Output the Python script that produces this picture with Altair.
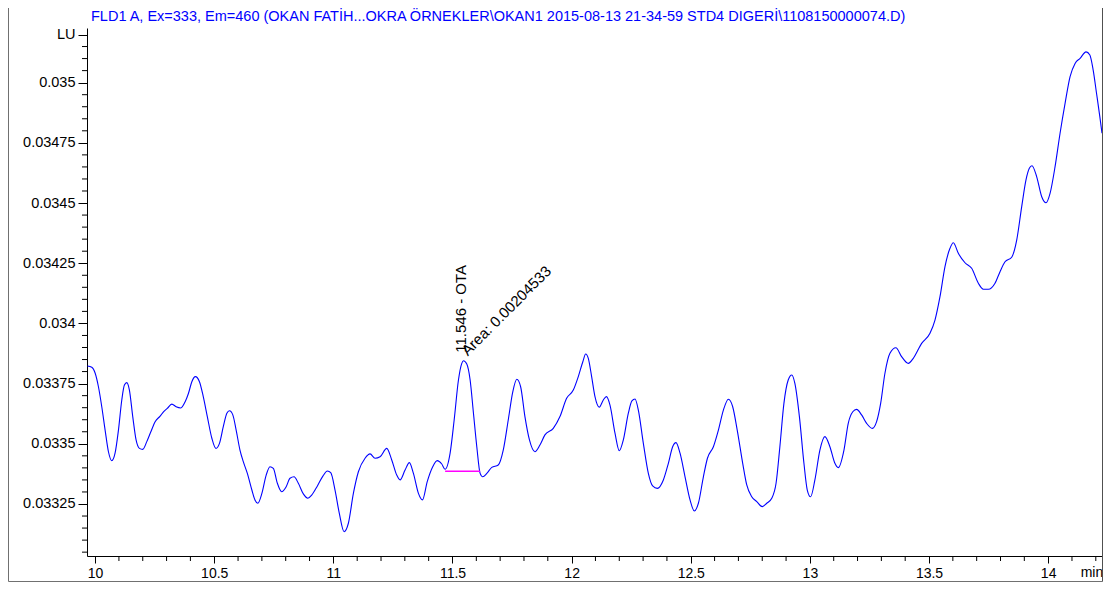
import altair as alt
import pandas as pd

TITLE = "FLD1 A, Ex=333, Em=460 (OKAN FATİH...OKRA ÖRNEKLER\\OKAN1 2015-08-13 21-34-59 STD4 DIGERİ\\1108150000074.D)"
FONT = "Liberation Sans, Arial, sans-serif"

time_min = [
    9.968, 9.986, 10.000, 10.014, 10.028, 10.042, 10.056, 10.070, 10.084, 10.098,
    10.112, 10.123, 10.133, 10.144, 10.158, 10.172, 10.186, 10.200, 10.217, 10.234,
    10.252, 10.273, 10.287, 10.303, 10.322, 10.340, 10.360, 10.378, 10.392, 10.406,
    10.421, 10.438, 10.454, 10.471, 10.490, 10.507, 10.522, 10.538, 10.553, 10.564,
    10.578, 10.592, 10.608, 10.622, 10.639, 10.658, 10.671, 10.683, 10.700, 10.718,
    10.734, 10.748, 10.765, 10.783, 10.802, 10.818, 10.835, 10.853, 10.874, 10.893,
    10.909, 10.933, 10.956, 10.975, 10.989, 11.007, 11.025, 11.045, 11.063, 11.084,
    11.105, 11.133, 11.154, 11.175, 11.196, 11.224, 11.245, 11.266, 11.280, 11.301,
    11.319, 11.336, 11.357, 11.374, 11.394, 11.417, 11.436, 11.455, 11.469, 11.490,
    11.507, 11.525, 11.539, 11.546, 11.560, 11.574, 11.588, 11.602, 11.616, 11.627,
    11.644, 11.665, 11.692, 11.713, 11.734, 11.753, 11.770, 11.786, 11.804, 11.823,
    11.846, 11.867, 11.888, 11.923, 11.951, 11.979, 12.007, 12.028, 12.047, 12.059,
    12.070, 12.084, 12.098, 12.116, 12.133, 12.146, 12.161, 12.182, 12.200, 12.217,
    12.238, 12.253, 12.266, 12.280, 12.301, 12.322, 12.340, 12.360, 12.385, 12.406,
    12.424, 12.438, 12.455, 12.476, 12.497, 12.515, 12.532, 12.553, 12.570, 12.595,
    12.616, 12.637, 12.658, 12.676, 12.695, 12.718, 12.735, 12.756, 12.777, 12.800,
    12.819, 12.840, 12.858, 12.874, 12.891, 12.909, 12.924, 12.937, 12.956, 12.975,
    12.989, 13.003, 13.021, 13.042, 13.063, 13.084, 13.105, 13.119, 13.143, 13.161,
    13.180, 13.196, 13.217, 13.238, 13.262, 13.280, 13.297, 13.315, 13.336, 13.361,
    13.385, 13.413, 13.434, 13.469, 13.504, 13.525, 13.546, 13.567, 13.588, 13.602,
    13.623, 13.651, 13.679, 13.707, 13.728, 13.749, 13.777, 13.798, 13.819, 13.847,
    13.868, 13.889, 13.907, 13.921, 13.932, 13.952, 13.973, 13.991, 14.008, 14.029,
    14.050, 14.071, 14.092, 14.113, 14.134, 14.159, 14.175, 14.189, 14.203, 14.217,
    14.226,
]

signal_lu = [
    0.033823, 0.033818, 0.033794, 0.033737, 0.033654, 0.033557, 0.033467, 0.033430, 0.033462, 0.033557,
    0.033682, 0.033744, 0.033754, 0.033723, 0.033613, 0.033516, 0.033481, 0.033477, 0.033509, 0.033550,
    0.033592, 0.033615, 0.033633, 0.033647, 0.033665, 0.033654, 0.033649, 0.033675, 0.033710, 0.033758,
    0.033779, 0.033758, 0.033696, 0.033613, 0.033523, 0.033481, 0.033502, 0.033571, 0.033627, 0.033637,
    0.033620, 0.033557, 0.033474, 0.033426, 0.033377, 0.033308, 0.033267, 0.033253, 0.033294, 0.033370,
    0.033405, 0.033398, 0.033336, 0.033301, 0.033322, 0.033357, 0.033363, 0.033336, 0.033292, 0.033274,
    0.033287, 0.033325, 0.033366, 0.033387, 0.033380, 0.033308, 0.033211, 0.033135, 0.033170, 0.033294,
    0.033384, 0.033440, 0.033458, 0.033440, 0.033446, 0.033481, 0.033433, 0.033370, 0.033350, 0.033391,
    0.033422, 0.033377, 0.033294, 0.033267, 0.033343, 0.033405, 0.033430, 0.033416, 0.033394, 0.033461,
    0.033599, 0.033765, 0.033834, 0.033845, 0.033831, 0.033765, 0.033627, 0.033488, 0.033377, 0.033363,
    0.033377, 0.033402, 0.033412, 0.033474, 0.033599, 0.033716, 0.033768, 0.033737, 0.033613, 0.033516,
    0.033467, 0.033495, 0.033537, 0.033564, 0.033613, 0.033689, 0.033723, 0.033779, 0.033841, 0.033873,
    0.033855, 0.033779, 0.033696, 0.033652, 0.033682, 0.033696, 0.033661, 0.033544, 0.033471, 0.033516,
    0.033627, 0.033678, 0.033686, 0.033640, 0.033502, 0.033377, 0.033325, 0.033315, 0.033350, 0.033419,
    0.033488, 0.033505, 0.033461, 0.033363, 0.033267, 0.033221, 0.033253, 0.033363, 0.033440, 0.033488,
    0.033557, 0.033640, 0.033685, 0.033654, 0.033557, 0.033419, 0.033329, 0.033280, 0.033260, 0.033239,
    0.033253, 0.033274, 0.033336, 0.033488, 0.033668, 0.033765, 0.033786, 0.033751, 0.033613, 0.033419,
    0.033308, 0.033280, 0.033350, 0.033474, 0.033530, 0.033488, 0.033419, 0.033401, 0.033474, 0.033585,
    0.033633, 0.033643, 0.033620, 0.033585, 0.033564, 0.033592, 0.033668, 0.033793, 0.033876, 0.033899,
    0.033862, 0.033834, 0.033855, 0.033917, 0.033959, 0.034014, 0.034111, 0.034236, 0.034312, 0.034335,
    0.034291, 0.034252, 0.034229, 0.034167, 0.034142, 0.034142, 0.034167, 0.034215, 0.034256, 0.034275,
    0.034346, 0.034485, 0.034596, 0.034644, 0.034655, 0.034609, 0.034526, 0.034501, 0.034540, 0.034651,
    0.034790, 0.034914, 0.035025, 0.035080, 0.035101, 0.035128, 0.035115, 0.035052, 0.034956, 0.034858,
    0.034790,
]

peak_time = [11.546]
peak_signal = [0.033845]
peak_label = ["11.546 - OTA"]
area_label = ["Area: 0.00204533"]

baseline_time = [11.469, 11.616]
baseline_signal = [0.033386, 0.033386]

x_major = [10, 10.5, 11, 11.5, 12, 12.5, 13, 13.5, 14]
x_minor = [10.1, 10.2, 10.3, 10.4, 10.6, 10.7, 10.8, 10.9, 11.1, 11.2, 11.3, 11.4,
           11.6, 11.7, 11.8, 11.9, 12.1, 12.2, 12.3, 12.4, 12.6, 12.7, 12.8, 12.9,
           13.1, 13.2, 13.3, 13.4, 13.6, 13.7, 13.8, 13.9, 14.1, 14.2]
y_major = [0.03325, 0.0335, 0.03375, 0.034, 0.03425, 0.0345, 0.03475, 0.035, 0.0352]
y_minor = [0.03305, 0.0331, 0.03315, 0.0332, 0.0333, 0.03335, 0.0334, 0.03345,
           0.03355, 0.0336, 0.03365, 0.0337, 0.0338, 0.03385, 0.0339, 0.03395,
           0.03405, 0.0341, 0.03415, 0.0342, 0.0343, 0.03435, 0.0344, 0.03445,
           0.03455, 0.0346, 0.03465, 0.0347, 0.0348, 0.03485, 0.0349, 0.03495,
           0.03505, 0.0351, 0.03515]
unit_x_label = ["min"]
unit_x_pos = [14.184]

X_DOMAIN = [9.966, 14.226]
Y_DOMAIN = [0.033034, 0.035227]
W, H = 1015, 528

xs = alt.Scale(domain=X_DOMAIN, nice=False, zero=False)
ys = alt.Scale(domain=Y_DOMAIN, nice=False, zero=False)

ax_x = alt.Axis(
    values=x_major, format="~g", tickSize=7, tickColor="black", domainColor="black",
    labelFont=FONT, labelFontSize=14, labelColor="black", labelPadding=3,
    grid=False, title=None, labelFlush=False, labelOverlap=False)
ax_y = alt.Axis(
    values=y_major, labelExpr="datum.value > 0.0351 ? 'LU' : format(datum.value, '.5~f')",
    tickSize=9, tickColor="black", domainColor="black",
    labelFont=FONT, labelFontSize=14.5, labelColor="black", labelPadding=3,
    grid=False, title=None, labelFlush=False, labelOverlap=False)

X = lambda: alt.X("t:Q", scale=xs, axis=ax_x)
Y = lambda: alt.Y("v:Q", scale=ys, axis=ax_y)

df = pd.DataFrame({"t": time_min, "v": signal_lu})
peak_df = pd.DataFrame({"t": peak_time, "v": peak_signal, "lab": peak_label, "area": area_label})
base_df = pd.DataFrame({"t": baseline_time, "v": baseline_signal})
xmin_df = pd.DataFrame({"t": x_minor})
ymin_df = pd.DataFrame({"v": y_minor})
unit_df = pd.DataFrame({"t": unit_x_pos, "lab": unit_x_label})
title_df = pd.DataFrame({"lab": [TITLE]})

line = alt.Chart(df).mark_line(color="#0000ff", strokeWidth=1.1, interpolate="monotone", clip=True).encode(
    x=X(), y=Y())

baseline = alt.Chart(base_df).mark_line(color="#ff00ff", strokeWidth=1.4).encode(x=X(), y=Y())

peak_txt = alt.Chart(peak_df).mark_text(angle=270, align="left", baseline="middle", dx=8, dy=-2,
                                        fontSize=15, font=FONT, color="black").encode(
    x=X(), y=Y(), text="lab:N")

area_txt = alt.Chart(peak_df).mark_text(angle=315, align="left", baseline="alphabetic", dx=6, dy=0,
                                        fontSize=15, font=FONT, color="black").encode(
    x=X(), y=Y(), text="area:N")

xminor = alt.Chart(xmin_df).mark_rule(color="black", strokeWidth=1).encode(
    x=X(), y=alt.value(H), y2=alt.value(H + 5))

yminor = alt.Chart(ymin_df).mark_rule(color="black", strokeWidth=1).encode(
    y=Y(), x=alt.value(-5), x2=alt.value(0))

unit_txt = alt.Chart(unit_df).mark_text(align="center", baseline="top", fontSize=14, font=FONT,
                                        color="black", dy=10).encode(
    x=X(), y=alt.value(H), text="lab:N")

title_txt = alt.Chart(title_df).mark_text(align="left", baseline="alphabetic", fontSize=14.5, font=FONT,
                                          color="#0000ff").encode(
    x=alt.value(4), y=alt.value(-7), text="lab:N")

frame_left = alt.Chart(title_df).mark_rule(color="#707070", strokeWidth=1).encode(
    x=alt.value(-78.5), y=alt.value(-20), y2=alt.value(553.5))
frame_bottom = alt.Chart(title_df).mark_rule(color="#707070", strokeWidth=1).encode(
    x=alt.value(-78.5), x2=alt.value(W + 0.5), y=alt.value(553.5))
frame_right = alt.Chart(title_df).mark_rule(color="#505050", strokeWidth=1).encode(
    x=alt.value(W + 0.5), y=alt.value(-20), y2=alt.value(553.5))

chart = alt.layer(
    line, baseline, peak_txt, area_txt, xminor, yminor, unit_txt, title_txt,
    frame_left, frame_bottom, frame_right,
).properties(
    width=W, height=H,
    autosize=alt.AutoSizeParams(type="none"),
    padding={"left": 79, "top": 20, "right": 5, "bottom": 28},
).configure_view(stroke=None)

chart.save("out.html", embed_options={"renderer": "svg", "actions": False})
